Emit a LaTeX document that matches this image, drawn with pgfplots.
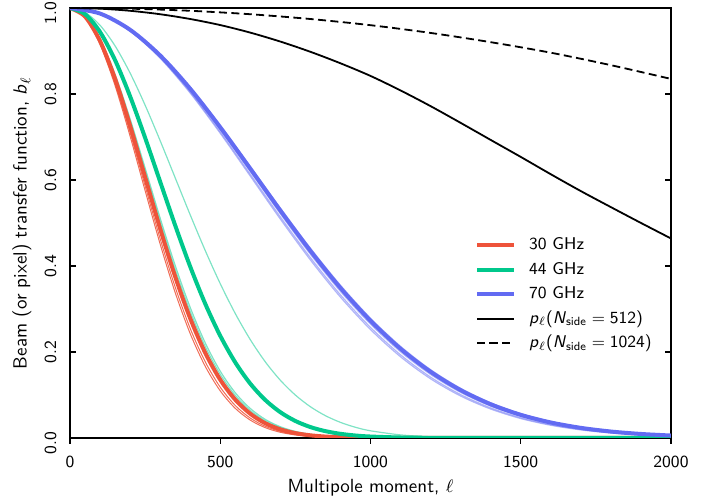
\documentclass[border=0pt]{standalone}
\usepackage{amsmath}
\usepackage{pgfplots}
\pgfplotsset{compat=1.18}
\definecolor{cred}{RGB}{238,83,58}
\definecolor{cgreen}{RGB}{0,200,140}
\definecolor{cblue}{RGB}{98,107,242}
\newcommand{\pl}[1]{\textit{p}$_\ell$(\textit{N}$_{\text{side}}=\text{#1}$)}
\begin{document}
\begin{tikzpicture}
\begin{axis}[
  scale only axis, width=300pt, height=214.6pt,
  xmin=0, xmax=2000, ymin=0, ymax=1,
  axis line style={line width=0.8pt},
  every tick/.style={black, line width=0.7pt},
  major tick length=2.8pt,
  xtick={0,500,1000,1500,2000}, xticklabels={0,500,1000,1500,2000},
  ytick={0.2,0.4,0.6,0.8}, yticklabels={0.2,0.4,0.6,0.8},
  extra y ticks={0,1}, extra y tick labels={0.0,1.0},
  extra y tick style={yticklabel style={xshift=-2.5pt}},
  minor tick num=0,
  xtick pos=bottom, xtick align=outside,
  ytick pos=both, ytick align=inside,
  tick label style={font=\sffamily\fontsize{8.5}{10}\selectfont},
  /pgf/number format/assume math mode=true,
  xticklabel style={inner sep=0pt, anchor=north, yshift=-6.2pt},
  yticklabel style={inner sep=0pt, xshift=-6.5pt, rotate=90, anchor=south},
  xlabel={Multipole moment, $\ell$},
  ylabel={Beam (or pixel) transfer function, \textit{b}$_\ell$},
  xlabel style={font=\sffamily\fontsize{9.5}{11}\selectfont, inner sep=0pt, at={(axis description cs:0.5,-0.115)}, anchor=center},
  ylabel style={font=\sffamily\fontsize{9.5}{11}\selectfont, inner sep=0pt, at={(axis description cs:-0.0799,0.5)}, anchor=center},
  legend style={at={(axis description cs:0.674,0.468)}, anchor=north west, draw=none, fill=none,
    inner sep=0pt, outer sep=0pt, font=\sffamily\fontsize{8.5}{10}\selectfont, row sep=3.5pt,
    nodes={inner sep=0pt, text height=6.5pt, text depth=2.2pt},
    /tikz/every odd column/.append style={column sep=6.5pt}},
  legend cell align=left,
  legend image code/.code={\draw[#1] (0pt,0pt) -- (18.5pt,0pt);},
]
% ---- 30 GHz thin
\addplot[cred, line width=0.5pt, opacity=0.85, smooth, forget plot] coordinates {
(0,1) (50,0.97812) (100,0.91530) (150,0.81944) (200,0.70189) (250,0.57515) (300,0.45090) (350,0.33820) (400,0.24269) (450,0.16661) (500,0.10942) (550,0.06876) (600,0.04134) (650,0.02378) (700,0.01308) (750,0.00689) (800,0.00347) (850,0.00167) (900,0.00077) (950,0.00034) (1000,0.00014) (1200,0) (2000,0)};
\addplot[cred, line width=0.5pt, opacity=0.85, smooth, forget plot] coordinates {
(0,1) (50,0.97885) (100,0.91805) (150,0.82500) (200,0.71035) (250,0.58604) (300,0.46325) (350,0.35086) (400,0.25462) (450,0.17704) (500,0.11795) (550,0.07529) (600,0.04605) (650,0.02699) (700,0.01515) (750,0.00815) (800,0.00420) (850,0.00208) (900,0.00098) (950,0.00045) (1000,0.00019) (1200,0) (2000,0)};
\addplot[cred, line width=0.5pt, opacity=0.85, smooth, forget plot] coordinates {
(0,1) (50,0.98057) (100,0.92450) (150,0.83809) (200,0.73052) (250,0.61224) (300,0.49337) (350,0.38227) (400,0.28479) (450,0.20401) (500,0.14051) (550,0.09305) (600,0.05925) (650,0.03628) (700,0.02135) (750,0.01209) (800,0.00658) (850,0.00344) (900,0.00173) (950,0.00084) (1000,0.00039) (1200,0) (2000,0)};
% ---- 44 GHz thin
\addplot[cgreen, line width=0.6pt, opacity=0.5, smooth, forget plot] coordinates {
(0,1) (50,0.98155) (100,0.92820) (150,0.84567) (200,0.74230) (250,0.62775) (300,0.51146) (350,0.40147) (400,0.30361) (450,0.22121) (500,0.15529) (550,0.10502) (600,0.06843) (650,0.04295) (700,0.02598) (750,0.01514) (800,0.00850) (850,0.00460) (900,0.00240) (950,0.00120) (1000,0.00058) (1200,0) (2000,0)};
\addplot[cgreen, line width=0.6pt, opacity=0.5, smooth, forget plot] coordinates {
(0,1) (50,0.98106) (100,0.92635) (150,0.84187) (200,0.73639) (250,0.61995) (300,0.50234) (350,0.39175) (400,0.29405) (450,0.21243) (500,0.14772) (550,0.09885) (600,0.06367) (650,0.03947) (700,0.02355) (750,0.01353) (800,0.00748) (850,0.00398) (900,0.00204) (950,0.00100) (1000,0.00048) (1200,0) (2000,0)};
\addplot[cgreen, line width=0.6pt, opacity=0.5, smooth, forget plot] coordinates {
(0,1) (50,0.98980) (100,0.95983) (150,0.91188) (200,0.84874) (250,0.77395) (300,0.69143) (350,0.60517) (400,0.51893) (450,0.43594) (500,0.35880) (550,0.28931) (600,0.22855) (650,0.17688) (700,0.13413) (750,0.09964) (800,0.07251) (850,0.05170) (900,0.03612) (950,0.02472) (1000,0.01657) (1100,0.00701) (1200,0.00273) (1300,0.00098) (1400,0.00032) (1600,0) (2000,0)};
% ---- 70 GHz thin
\addplot[cblue, line width=0.8pt, opacity=0.5, smooth, forget plot] coordinates {
(0,1) (100,0.98727) (200,0.95007) (300,0.89114) (400,0.81476) (500,0.72606) (600,0.63069) (700,0.53396) (800,0.44065) (900,0.35444) (1000,0.27790) (1100,0.21237) (1200,0.15820) (1300,0.11485) (1400,0.08129) (1500,0.05607) (1600,0.03771) (1700,0.02470) (1800,0.01579) (1900,0.00983) (2000,0.00597)};
\addplot[cblue, line width=0.8pt, opacity=0.5, smooth, forget plot] coordinates {
(0,1) (100,0.98682) (200,0.94834) (300,0.88750) (400,0.80885) (500,0.71785) (600,0.62044) (700,0.52218) (800,0.42800) (900,0.34161) (1000,0.26554) (1100,0.20099) (1200,0.14817) (1300,0.10635) (1400,0.07435) (1500,0.05061) (1600,0.03356) (1700,0.02166) (1800,0.01362) (1900,0.00834) (2000,0.00497)};
\addplot[cblue, line width=0.6pt, opacity=0.5, smooth, forget plot] coordinates {
(0,1) (100,0.98651) (200,0.94711) (300,0.88491) (400,0.80465) (500,0.71204) (600,0.61323) (700,0.51393) (800,0.41919) (900,0.33273) (1000,0.25705) (1100,0.19325) (1200,0.14139) (1300,0.10067) (1400,0.06976) (1500,0.04704) (1600,0.03088) (1700,0.01972) (1800,0.01226) (1900,0.00742) (2000,0.00437)};
\addplot[cblue, line width=0.6pt, opacity=0.5, smooth, forget plot] coordinates {
(0,1) (100,0.98631) (200,0.94637) (300,0.88335) (400,0.80215) (500,0.70858) (600,0.60894) (700,0.50905) (800,0.41399) (900,0.32752) (1000,0.25208) (1100,0.18874) (1200,0.13748) (1300,0.09741) (1400,0.06715) (1500,0.04502) (1600,0.02938) (1700,0.01864) (1800,0.01151) (1900,0.00691) (2000,0.00404)};
% ---- thick beams
\addplot[cred, line width=2pt, smooth] coordinates {
(0,1) (50,0.9802) (100,0.9231) (150,0.8353) (200,0.7261) (250,0.6065) (300,0.4868) (350,0.3753) (400,0.2780) (450,0.1979) (500,0.1353) (550,0.0889) (600,0.0561) (650,0.0340) (700,0.0198) (750,0.0111) (800,0.0060) (850,0.0031) (900,0.0015) (950,0.0007) (1000,0.0003) (1200,0) (2000,0)};
\addlegendentry{30 GHz}
\addplot[cgreen, line width=2pt, smooth] coordinates {
(0,1) (50,0.98573) (100,0.94412) (150,0.87865) (200,0.79453) (250,0.69812) (300,0.59601) (350,0.49442) (400,0.39852) (450,0.31212) (500,0.23752) (550,0.17563) (600,0.12619) (650,0.08809) (700,0.05976) (750,0.03938) (800,0.02522) (850,0.01570) (900,0.00949) (950,0.00557) (1000,0.00318) (1100,0.00095) (1200,0.00025) (1400,0) (2000,0)};
\addlegendentry{44 GHz}
\addplot[cblue, line width=2pt, smooth] coordinates {
(0,1) (100,0.98708) (200,0.94933) (300,0.88958) (400,0.81222) (500,0.72253) (600,0.62628) (700,0.52888) (800,0.43518) (900,0.34888) (1000,0.27253) (1100,0.20742) (1200,0.15382) (1300,0.11113) (1400,0.07824) (1500,0.05366) (1600,0.03587) (1700,0.02335) (1800,0.01482) (1900,0.00916) (2000,0.00552)};
\addlegendentry{70 GHz}
% ---- pixel windows
\addplot[black, line width=0.9pt, smooth] coordinates {
(0,1) (100,0.9984) (200,0.9935) (300,0.9855) (400,0.9744) (500,0.9603) (600,0.9427) (700,0.9219) (800,0.8981) (900,0.8714) (1000,0.8420) (1100,0.8082) (1200,0.7717) (1300,0.7328) (1400,0.6931) (1500,0.6536) (1600,0.6133) (1700,0.5741) (1800,0.5368) (1900,0.5000) (2000,0.4639)};
\addlegendentry{\pl{512}}
\addplot[black, line width=0.9pt, smooth, dash pattern=on 4pt off 2.2pt] coordinates {
(0,1) (200,0.9984) (400,0.9935) (600,0.9855) (800,0.9744) (1000,0.9600) (1200,0.9420) (1400,0.9205) (1600,0.8960) (1800,0.8670) (2000,0.8350)};
\addlegendentry{\pl{1024}}
\end{axis}
\path ([shift={(-34.94pt,-30.45pt)}]current axis.south west) rectangle ([shift={(20.97pt,3.99pt)}]current axis.north east);
\end{tikzpicture}
\end{document}
